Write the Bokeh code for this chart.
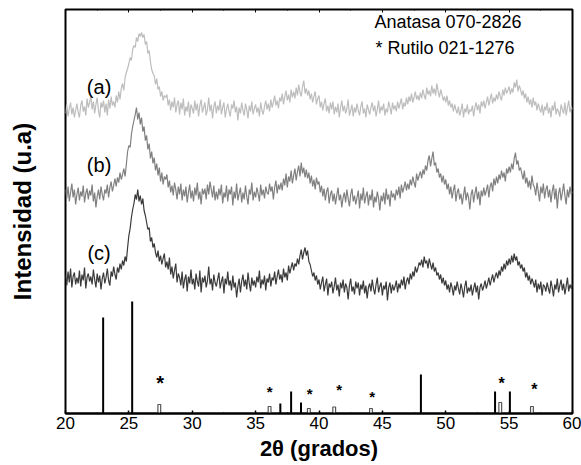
import numpy as np
from bokeh.plotting import figure
from bokeh.models import (Range1d, LinearAxis, Label, ColumnDataSource, SingleIntervalTicker,
                          FixedTicker, CustomJSTickFormatter)
from bokeh.embed import file_html
from bokeh.resources import INLINE
from bokeh.core.properties import value

# 2-theta sampling (degrees)
two_theta = [round(20 + i / 10, 1) for i in range(401)]

# ---- diffractogram (a) : offset intensity (a.u.) ----
curve_a = [
    300, 309, 297, 305, 311, 299, 306, 296, 303, 310,
    301, 296, 308, 313, 302, 307, 298, 315, 306, 311,
    318, 304, 312, 300, 309, 316, 303, 296, 311, 306,
    313, 301, 310, 298, 314, 305, 317, 308, 312, 306,
    318, 311, 322, 314, 325, 330, 323, 336, 341, 345,
    350, 356, 353, 364, 368, 366, 376, 372, 380, 377,
    381, 376, 379, 369, 372, 360, 363, 352, 344, 340,
    338, 329, 335, 324, 327, 317, 322, 313, 318, 316,
    319, 308, 314, 303, 312, 306, 316, 301, 309, 313,
    299, 311, 304, 315, 298, 307, 302, 312, 296, 309,
    305, 300, 313, 303, 310, 297, 308, 314, 301, 306,
    311, 298, 304, 316, 302, 309, 295, 307, 312, 300,
    308, 303, 314, 299, 306, 311, 296, 304, 310, 302,
    297, 309, 305, 313, 301, 307, 293, 306, 300, 311,
    303, 298, 310, 304, 295, 308, 302, 312, 299, 305,
    309, 301, 306, 297, 311, 303, 299, 307, 313, 304,
    310, 302, 314, 306, 311, 318, 308, 313, 305, 316,
    312, 320, 309, 317, 323, 313, 319, 311, 324, 316,
    322, 315, 326, 318, 329, 321, 317, 327, 333, 320,
    325, 318, 323, 314, 320, 311, 317, 322, 309, 315,
    318, 306, 312, 303, 310, 315, 302, 308, 300, 311,
    304, 312, 299, 307, 301, 310, 296, 306, 313, 302,
    308, 300, 305, 314, 298, 303, 309, 297, 306, 301,
    310, 303, 298, 307, 312, 300, 305, 296, 309, 304,
    299, 306, 311, 302, 308, 297, 304, 313, 300, 307,
    303, 310, 298, 305, 301, 312, 306, 299, 311, 304,
    308, 302, 312, 305, 310, 315, 304, 311, 307, 316,
    309, 317, 312, 320, 311, 316, 322, 314, 318, 313,
    321, 315, 324, 318, 314, 326, 319, 323, 317, 328,
    320, 325, 318, 330, 322, 316, 324, 319, 313, 317,
    311, 318, 308, 313, 306, 310, 302, 309, 304, 300,
    307, 298, 303, 310, 296, 305, 301, 309, 299, 304,
    302, 308, 297, 306, 311, 303, 309, 300, 312, 307,
    313, 305, 311, 317, 308, 314, 320, 310, 316, 312,
    319, 314, 322, 317, 313, 324, 318, 326, 320, 323,
    327, 319, 325, 321, 331, 326, 334, 322, 328, 324,
    318, 323, 315, 320, 311, 317, 309, 314, 306, 316,
    308, 312, 303, 310, 305, 301, 309, 298, 307, 303,
    311, 300, 306, 296, 308, 303, 312, 299, 305, 302,
    297, 309, 304, 300, 311, 298, 306, 313, 301, 307,
    304,
]

# ---- diffractogram (b) ----
curve_b = [
    224, 215, 227, 212, 221, 230, 216, 224, 209, 219,
    226, 213, 222, 217, 228, 211, 220, 225, 214, 223,
    218, 229, 212, 221, 206, 217, 224, 214, 227, 219,
    213, 224, 220, 229, 216, 226, 232, 222, 228, 235,
    227, 236, 231, 241, 234, 239, 245, 237, 249, 262,
    268, 266, 279, 287, 293, 299, 306, 294, 301, 289,
    296, 282, 287, 273, 278, 264, 270, 255, 262, 250,
    256, 243, 250, 238, 246, 232, 241, 229, 237, 234,
    239, 226, 233, 221, 228, 218, 231, 224, 214, 227,
    219, 230, 213, 224, 217, 227, 211, 221, 229, 215,
    223, 212, 226, 218, 231, 214, 222, 209, 225, 219,
    225, 214, 229, 219, 232, 224, 216, 228, 213, 222,
    214, 225, 218, 229, 210, 221, 216, 228, 212, 224,
    219, 227, 208, 222, 215, 230, 213, 220, 226, 211,
    221, 214, 228, 217, 209, 224, 219, 231, 213, 222,
    216, 226, 220, 212, 229, 218, 224, 215, 227, 221,
    219, 230, 222, 227, 214, 226, 233, 220, 229, 224,
    231, 223, 235, 228, 240, 226, 237, 232, 243, 230,
    238, 245, 233, 242, 248, 237, 251, 240, 246, 236,
    244, 235, 241, 230, 238, 227, 234, 224, 236, 229,
    232, 221, 228, 217, 225, 213, 222, 226, 210, 219,
    223, 212, 220, 209, 218, 226, 213, 219, 206, 216,
    221, 211, 224, 215, 207, 219, 225, 212, 218, 209,
    216, 223, 205, 220, 213, 226, 210, 217, 222, 208,
    219, 213, 224, 206, 217, 211, 222, 215, 203, 218,
    212, 221, 209, 225, 214, 219, 207, 223, 216, 220,
    213, 224, 218, 227, 215, 229, 221, 226, 232, 223,
    230, 224, 234, 228, 237, 231, 226, 240, 233, 238,
    242, 235, 244, 239, 248, 243, 253, 258, 247, 255,
    262, 248, 251, 241, 245, 236, 240, 231, 238, 229,
    234, 224, 230, 219, 227, 215, 223, 229, 212, 221,
    225, 214, 220, 209, 218, 227, 213, 221, 216, 204,
    219, 224, 211, 220, 227, 214, 222, 208, 223, 217,
    226, 218, 223, 229, 216, 227, 231, 222, 235, 228,
    237, 230, 239, 234, 243, 236, 241, 232, 245, 240,
    247, 241, 250, 244, 255, 261, 249, 253, 243, 246,
    240, 234, 243, 230, 236, 226, 233, 224, 238, 229,
    226, 218, 231, 222, 212, 227, 220, 230, 215, 224,
    228, 216, 224, 211, 222, 229, 214, 225, 205, 220,
    226, 213, 221, 230, 218, 209, 224, 216, 227, 219,
    222,
]

# ---- diffractogram (c) ----
curve_c = [
    138, 128, 142, 131, 145, 126, 137, 141, 129, 136,
    130, 143, 127, 139, 133, 146, 125, 136, 140, 132,
    137, 129, 144, 134, 126, 140, 131, 138, 124, 135,
    141, 130, 136, 145, 133, 128, 142, 137, 147, 139,
    134, 146, 141, 150, 144, 153, 148, 157, 152, 166,
    178, 185, 196, 204, 210, 219, 214, 224, 212, 218,
    209, 215, 203, 198, 191, 184, 186, 172, 176, 166,
    170, 161, 156, 163, 152, 158, 149, 155, 160, 146,
    152, 144, 156, 139, 147, 135, 143, 150, 131, 140,
    136, 128, 142, 125, 134, 139, 122, 137, 130, 144,
    129, 135, 124, 140, 132, 127, 143, 121, 136, 131,
    138, 126, 133, 147, 129, 135, 123, 139, 131, 127,
    134, 141, 125, 132, 137, 120, 135, 129, 142, 128,
    133, 123, 138, 126, 131, 116, 127, 135, 121, 132,
    139, 127, 134, 124, 141, 130, 122, 136, 128, 133,
    126, 137, 131, 143, 125, 134, 129, 138, 123, 135,
    131, 140, 127, 136, 133, 142, 129, 137, 144, 134,
    139, 131, 145, 136, 141, 133, 148, 140, 146, 151,
    143, 150, 147, 155, 149, 158, 164, 154, 161, 166,
    158, 163, 152, 149, 143, 137, 141, 133, 138, 129,
    134, 124, 131, 137, 122, 129, 135, 118, 130, 126,
    132, 120, 127, 136, 123, 129, 117, 131, 125, 134,
    121, 130, 126, 114, 128, 135, 122, 127, 119, 132,
    125, 131, 118, 129, 124, 133, 120, 128, 115, 126,
    130, 122, 134, 125, 119, 129, 136, 121, 127, 131,
    118, 128, 124, 132, 113, 126, 131, 120, 129, 123,
    127, 133, 121, 130, 125, 134, 128, 137, 124, 132,
    136, 129, 140, 134, 142, 137, 147, 141, 145, 151,
    148, 154, 146, 157, 150, 153, 145, 155, 149, 144,
    151, 142, 146, 138, 141, 134, 139, 130, 136, 128,
    133, 124, 129, 121, 131, 126, 118, 128, 123, 132,
    125, 119, 130, 124, 116, 127, 133, 120, 126, 122,
    129, 118, 125, 131, 121, 128, 114, 126, 130, 123,
    127, 133, 125, 130, 136, 128, 134, 139, 131, 137,
    141, 135, 143, 138, 147, 142, 150, 144, 153, 148,
    155, 149, 158, 151, 160, 153, 157, 148, 152, 145,
    149, 142, 146, 136, 141, 133, 138, 129, 135, 131,
    126, 134, 121, 130, 124, 132, 118, 129, 127, 122,
    131, 125, 120, 133, 126, 117, 129, 124, 135, 121,
    128, 134, 123, 130, 119, 127, 136, 122, 129, 125,
    130,
]

# ---- reference patterns ----
anatase_pos = [22.97, 25.26, 36.95, 37.80, 38.58, 48.04, 53.89, 55.06]
anatase_int = [96, 112, 10, 22, 11, 39, 22, 22]
rutile_pos = [27.4, 36.1, 39.2, 41.2, 44.1, 54.3, 56.8]
rutile_int = [9, 7, 5, 6.5, 5, 11, 7]
star_x = [27.46, 36.1, 39.26, 41.6, 44.2, 54.4, 57.0]
star_y = [36, 27, 25, 29, 22, 35, 29]
star_size = ["20px", "15px", "15px", "15px", "15px", "16px", "16px"]

sample_labels = ["(a)", "(b)", "(c)"]
sample_label_y = [327, 249, 161]
legend_lines = ["Anatasa 070-2826", "* Rutilo 021-1276"]
x_ticks_major = 5

FONT = "Liberation Sans"

p = figure(width=581, height=465, x_range=Range1d(20, 60), y_range=Range1d(0, 404),
           output_backend="svg", toolbar_location=None,
           min_border_left=65, min_border_right=9, min_border_top=9, min_border_bottom=52,
           background_fill_color="white", border_fill_color="white")
p.grid.visible = False
p.outline_line_color = "black"
p.outline_line_width = 2

ya = p.yaxis[0]
ya.ticker = FixedTicker(ticks=[])
ya.axis_line_color = None
ya.major_tick_line_color = None
ya.minor_tick_line_color = None
ya.axis_label = "Intensidad (u.a)"
ya.axis_label_text_font = FONT
ya.axis_label_text_font_size = "24px"
ya.axis_label_text_font_style = "bold"
ya.axis_label_text_color = "black"
ya.axis_label_standoff = 30

xa = p.xaxis[0]
xa.ticker = SingleIntervalTicker(interval=x_ticks_major, num_minor_ticks=2)
xa.major_tick_in = 3
xa.major_tick_out = 0
xa.minor_tick_in = 1
xa.minor_tick_out = 0
xa.axis_line_width = 2
xa.major_tick_line_width = 1.5
xa.major_label_text_font = FONT
xa.major_label_text_font_size = "17px"
xa.major_label_text_color = "black"
xa.major_label_standoff = 3
xa.axis_label = "2θ (grados)"
xa.axis_label_text_font = FONT
xa.axis_label_text_font_size = "22px"
xa.axis_label_text_font_style = "bold"
xa.axis_label_text_color = "black"
xa.axis_label_standoff = 4

top = LinearAxis(ticker=SingleIntervalTicker(interval=x_ticks_major, num_minor_ticks=2),
                 major_tick_in=3, major_tick_out=0, minor_tick_in=1, minor_tick_out=0,
                 axis_line_color=None, major_label_standoff=0,
                 formatter=CustomJSTickFormatter(code="return ''"))
p.add_layout(top, "above")

colors = ["#BDBDBD", "#808080", "#3A3A3A"]
for ys, c in zip([curve_a, curve_b, curve_c], colors):
    p.line(two_theta, ys, line_color=c, line_width=1.2)

# anatase sticks
src_an = ColumnDataSource(dict(x=anatase_pos, y0=[0] * len(anatase_pos), y1=anatase_int))
p.segment(x0="x", y0="y0", x1="x", y1="y1", source=src_an, line_color="black", line_width=2)

# rutile open bars
p.vbar(x=rutile_pos, top=rutile_int, bottom=0, width=0.22, fill_color="white",
       line_color="#555555", line_width=1.2)

src_star = ColumnDataSource(dict(x=star_x, y=star_y, t=["*"] * len(star_x), s=star_size))
p.text(x="x", y="y", text="t", source=src_star, text_font=value(FONT), text_font_size="s",
       text_font_style="bold", text_align="center", text_baseline="middle", y_offset=5,
       text_color="black")

for lab, yy in zip(sample_labels, sample_label_y):
    p.add_layout(Label(x=22.65, y=yy, text=lab, text_font=FONT, text_font_size="20px",
                       text_align="center", text_baseline="middle", text_color="black"))

p.add_layout(Label(x=44.37, y=392, text=legend_lines[0], text_font=FONT, text_font_size="18px",
                   text_align="left", text_baseline="middle", text_color="black"))
p.add_layout(Label(x=44.45, y=365.5, text=legend_lines[1], text_font=FONT, text_font_size="18px",
                   text_align="left", text_baseline="middle", text_color="black"))

open("out.html", "w").write(file_html(p, INLINE))
